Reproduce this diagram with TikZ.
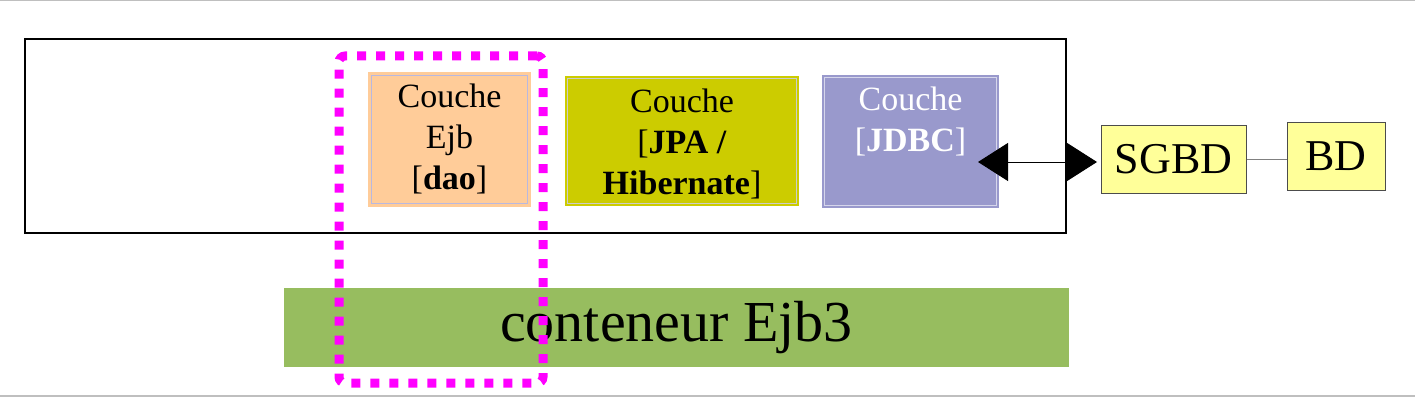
\documentclass[tikz,border=0pt]{standalone}
\usepackage{fontspec}
\setmainfont{Liberation Serif}
\usetikzlibrary{arrows.meta}
\definecolor{peach}{HTML}{FFCC99}
\definecolor{olive}{HTML}{CCCC00}
\definecolor{lilac}{HTML}{9999CC}
\definecolor{leaf}{HTML}{97BD5F}
\definecolor{pale}{HTML}{FFFF99}
\definecolor{pink}{HTML}{FF00FF}
\tikzset{
  layerbox/.style={rectangle, inner sep=0pt, draw=none},
  layertext/.style={anchor=north, align=center, inner sep=0pt, font=\fontsize{34}{41}\selectfont},
  dbbox/.style={rectangle, draw=black!70, line width=1pt, fill=pale, inner sep=0pt, font=\fontsize{44}{50}\selectfont},
  innerline/.style={line width=1pt},
}
\begin{document}
\begin{tikzpicture}[x=1pt,y=-1pt]
\useasboundingbox (0,0) rectangle (1415,401);
% page lines
\draw[gray!50, line width=1.5pt] (0,0.75) -- (1415,0.75);
\draw[gray!50, line width=1.5pt] (0,396) -- (1415,396);
% main frame
\node[rectangle, draw=black, line width=2pt, minimum width=1041pt, minimum height=194pt] (frame) at (545.5,136) {};
% layers
\node[layerbox, fill=peach, minimum width=163pt, minimum height=135pt] (ejb) at (449.5,139.5) {};
\draw[innerline, draw=gray!60!blue!40] ([shift={(4pt,-4pt)}]ejb.north west) rectangle ([shift={(-4pt,4pt)}]ejb.south east);
\node[layertext] (ejbt) at (449.5,84) {Couche\\Ejb\\{[}\textbf{dao}]};

\node[layerbox, fill=olive, minimum width=234pt, minimum height=130pt] (jpa) at (682,141) {};
\draw[innerline, draw=gray!40] ([shift={(3pt,-3pt)}]jpa.north west) rectangle ([shift={(-3pt,3pt)}]jpa.south east);
\node[layertext] (jpat) at (682,89) {Couche\\{[}\textbf{JPA /}\\\textbf{Hibernate}]};

\node[layerbox, fill=lilac, minimum width=177pt, minimum height=133pt] (jdbc) at (910.5,141.5) {};
\draw[innerline, draw=white!60!lilac] ([shift={(3pt,-3pt)}]jdbc.north west) rectangle ([shift={(-3pt,3pt)}]jdbc.south east);
\node[layertext, text=white] (jdbct) at (910.5,87) {Couche\\{[}\textbf{JDBC}]};

% database side
\node[dbbox, minimum width=145pt, minimum height=67pt] (sgbd) at (1173.5,159.5) {SGBD};
\node[dbbox, minimum width=98pt, minimum height=67pt] (bd) at (1336,156.5) {BD};
\draw[gray, line width=1pt] (sgbd.east) -- (sgbd.east -| bd.west);

\coordinate (ltip) at (978,162);
\coordinate (rtip) at (1097,162);
\draw[line width=1pt, {Triangle[length=30pt,width=38pt]}-{Triangle[length=30pt,width=38pt]}] (ltip) -- (rtip);

% container
\node[rectangle, fill=leaf, inner sep=0pt, minimum width=785pt, minimum height=79pt, font=\fontsize{58}{62}\selectfont] (cont) at (676.5,327.5) {conteneur Ejb3};

% selection
\node[rectangle, draw=pink, line width=9pt, dash pattern=on 9pt off 10pt, rounded corners=6pt, inner sep=0pt, minimum width=204pt, minimum height=327pt] (sel) at (441,219.5) {};
\end{tikzpicture}
\end{document}
